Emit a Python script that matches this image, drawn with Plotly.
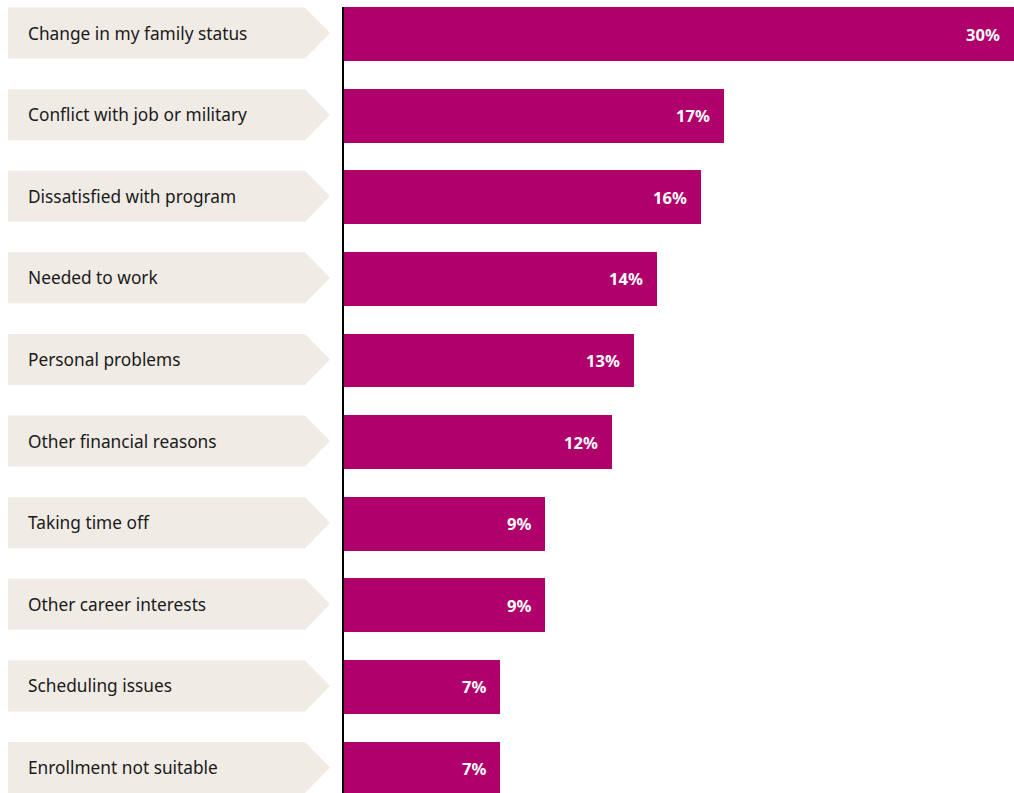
import plotly.graph_objects as go

# Reasons given for leaving the program, share of respondents (%)
reasons = [
    "Change in my family status",
    "Conflict with job or military",
    "Dissatisfied with program",
    "Needed to work",
    "Personal problems",
    "Other financial reasons",
    "Taking time off",
    "Other career interests",
    "Scheduling issues",
    "Enrollment not suitable",
]
shares = [30, 17, 16, 14, 13, 12, 9, 9, 7, 7]

W, H = 1014, 793
BAR_COLOR = "#B0006B"
TAG_COLOR = "#F0EBE5"
FONT = "Noto Sans"

# category index -> vertical position (top row = 0)
y_pos = list(range(len(reasons)))
Y_TOP, Y_BOTTOM = -0.417, 9.30        # axis range, reversed so first row is on top
X_DOMAIN_LEFT = 344 / W

fig = go.Figure()
fig.add_trace(go.Bar(
    x=shares,
    y=y_pos,
    orientation="h",
    width=0.66,
    marker=dict(color=BAR_COLOR, line=dict(width=0)),
    hoverinfo="skip",
    customdata=reasons,
))


def y_to_paper(v):
    return (Y_BOTTOM - v) / (Y_BOTTOM - Y_TOP)


shapes = []
annotations = []
for i, (name, val) in enumerate(zip(reasons, shares)):
    yc = y_to_paper(y_pos[i]) + 1.0 / H
    half = 25.5 / H
    x_left, x_rect, x_tip = 8 / W, 305 / W, 330 / W
    path = (f"M {x_left} {yc + half} L {x_rect} {yc + half} L {x_tip} {yc} "
            f"L {x_rect} {yc - half} L {x_left} {yc - half} Z")
    shapes.append(dict(type="path", path=path, xref="paper", yref="paper",
                       fillcolor=TAG_COLOR, line=dict(width=0), layer="below"))
    annotations.append(dict(text=name, xref="paper", yref="paper",
                            x=26 / W, y=yc, xanchor="left", yanchor="middle",
                            showarrow=False,
                            font=dict(family=FONT, size=17.3, color="#1a1a1a")))
    annotations.append(dict(text=f"<b>{val}%</b>", xref="x", yref="y",
                            x=val, y=y_pos[i], xanchor="right", yanchor="middle",
                            xshift=-12, showarrow=False,
                            font=dict(family=FONT, size=16.5, color="white")))

# baseline on the left of the bars
shapes.append(dict(type="line", xref="paper", yref="paper",
                   x0=343 / W, x1=343 / W, y0=0, y1=1 - 7 / H,
                   line=dict(color="black", width=2)))

fig.update_layout(
    width=W, height=H,
    margin=dict(l=0, r=0, t=0, b=0),
    paper_bgcolor="white", plot_bgcolor="white",
    showlegend=False,
    bargap=0,
    xaxis=dict(domain=[X_DOMAIN_LEFT, 1], range=[0, 30], visible=False,
               fixedrange=True),
    yaxis=dict(range=[Y_BOTTOM, Y_TOP], visible=False, fixedrange=True),
    shapes=shapes,
    annotations=annotations,
    font=dict(family=FONT),
)

fig.write_html("out.html")
